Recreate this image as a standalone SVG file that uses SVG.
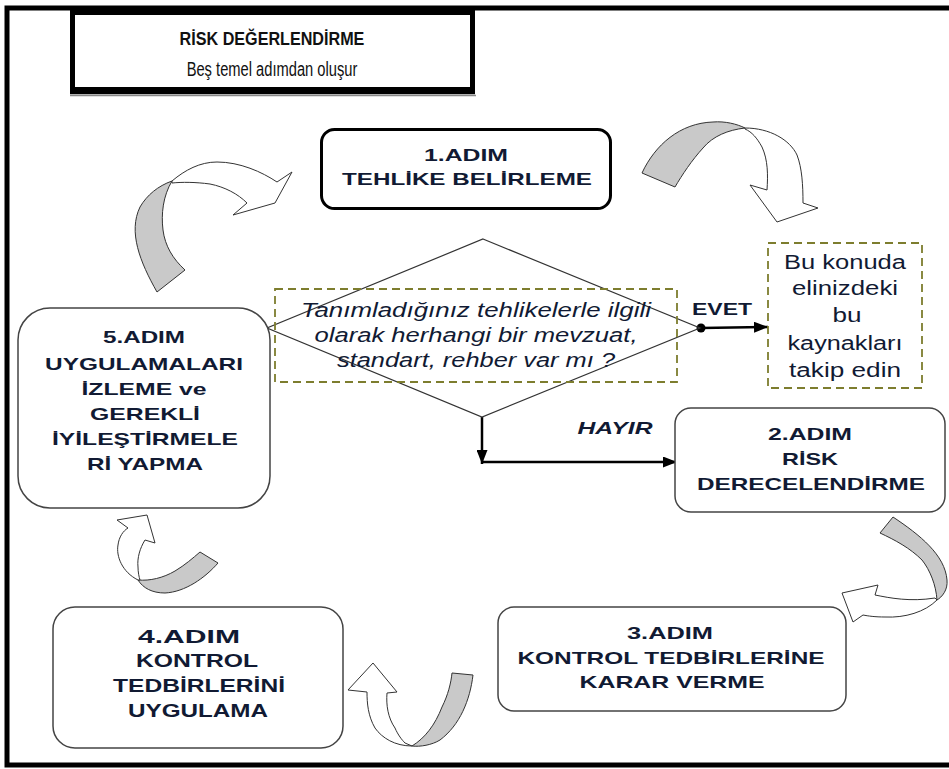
<svg xmlns="http://www.w3.org/2000/svg" width="949" height="769" viewBox="0 0 949 769">
<style>
.bt{font-family:"Liberation Sans",Arial,sans-serif;font-weight:bold;font-size:17px;fill:#111a33;text-anchor:middle}
.b4{font-size:18px}
.it{font-family:"Liberation Sans",Arial,sans-serif;font-style:italic;font-size:20px;fill:#111a33;text-anchor:middle}
.rt{font-family:"Liberation Sans",Arial,sans-serif;font-size:20px;fill:#111a33;text-anchor:middle}
.t1{font-family:"Liberation Sans",Arial,sans-serif;font-weight:bold;font-size:19px;fill:#111;text-anchor:middle}
.t2{font-family:"Liberation Sans",Arial,sans-serif;font-size:20px;fill:#111;text-anchor:middle}
.box{fill:#fff;stroke:#444;stroke-width:1.5}
.dash{fill:none;stroke:#7d7d2e;stroke-width:1.8;stroke-dasharray:8 5}
.g{fill:#c9c9c9;stroke:#333;stroke-width:1}
.w{fill:#fff;stroke:#333;stroke-width:1}
.ln{fill:none;stroke:#000;stroke-width:2.5}
</style>
<defs>
<marker id="ah" markerUnits="userSpaceOnUse" markerWidth="14" markerHeight="11" refX="14" refY="5.5" orient="auto">
<path d="M0,0 L14,5.5 L0,11 Z" fill="#000"/>
</marker>
</defs>
<rect width="949" height="769" fill="#fff"/>
<rect x="7" y="8" width="960" height="757" fill="none" stroke="#000" stroke-width="5"/>

<g id="title">
<rect x="72.5" y="12.5" width="400" height="77" fill="#fff" stroke="#000" stroke-width="5"/>
<line x1="70" y1="93" x2="475" y2="93" stroke="#000" stroke-width="2.5"/>
<line x1="70" y1="95.5" x2="476" y2="95.5" stroke="#888" stroke-width="1.5"/>
<text class="t1" transform="translate(272,45) scale(0.85,1)">RİSK DEĞERLENDİRME</text>
<text class="t2" transform="translate(272,76) scale(0.735,1)">Beş temel adımdan oluşur</text>
</g>

<g id="connectors">
<path class="g" d="M157,292 C140,262 128,232 140,207 C147,195 158,186 172,181 C163,196 161,214 163,230 C165,246 173,259 185,270 Z"/>
<path class="w" d="M172,181 C185,170 200,162 217,162 C240,162 262,172 277,182 L292,172 L275,203 L233,215 L247,203 C238,194 225,187 210,184 C195,182 182,182 172,183 Z"/>
<path class="g" d="M642,173 C655,145 680,123 713,122 C725,121 737,124 745,128 C728,130 713,136 703,148 C692,160 682,175 675,187 Z"/>
<path class="w" d="M745,128 C770,128 790,140 797,155 C802,168 803,185 803,203 L818,208 L777,222 L750,185 L767,190 C768,175 768,160 762,147 C757,138 752,132 745,129 Z"/>
<path class="g" d="M893,517 C920,535 945,555 947,580 C948,590 942,597 937,600 C936,585 930,570 922,560 C910,548 895,540 880,533 Z"/>
<path class="w" d="M937,600 C925,612 905,618 885,617 C875,617 868,616 863,615 L853,622 L842,593 L878,585 L875,595 C890,598 910,602 935,598 Z"/>
<path class="g" d="M473,675 C470,700 460,725 440,740 C432,745 420,747 412,746 C425,738 435,725 442,707 C448,695 451,683 452,673 Z"/>
<path class="w" d="M412,746 C395,746 382,738 375,728 C368,716 367,703 367,692 L348,690 L373,663 L397,692 L387,693 C386,705 388,718 395,728 C398,735 402,740 405,743 Z"/>
<path class="g" d="M218,563 C205,578 185,592 165,593 C152,593 143,588 138,580 C150,581 163,578 175,571 C185,565 193,558 200,552 Z"/>
<path class="w" d="M138,580 C122,572 116,556 118,545 C119,537 123,531 128,528 L117,520 L147,515 L155,543 L145,540 C140,548 137,558 138,567 C138,572 139,577 140,580 Z"/>
<line class="ln" x1="701" y1="328" x2="768" y2="327" marker-end="url(#ah)"/>
<circle cx="701" cy="328" r="4.5" fill="#000"/>
<path class="ln" d="M482,417 V464" marker-end="url(#ah)"/>
<path class="ln" d="M482,462 H677" marker-end="url(#ah)"/>
<text class="bt" x="722" y="315" textLength="60" lengthAdjust="spacingAndGlyphs">EVET</text>
<text class="bt" x="615" y="434" style="font-style:italic" textLength="75" lengthAdjust="spacingAndGlyphs">HAYIR</text>
</g>

<g id="decision">
<polygon points="483,239 700,328 482,417 267,328" fill="none" stroke="#333" stroke-width="1.2"/>
<rect class="dash" x="275" y="289" width="402" height="93"/>
<text class="it" x="476" y="317" textLength="350" lengthAdjust="spacingAndGlyphs">Tanımladığınız tehlikelerle ilgili</text>
<text class="it" x="476" y="342" textLength="323" lengthAdjust="spacingAndGlyphs">olarak herhangi bir mevzuat,</text>
<text class="it" x="476" y="367" textLength="278" lengthAdjust="spacingAndGlyphs">standart, rehber var mı ?</text>
</g>

<g id="kaynak">
<rect class="dash" x="768" y="243" width="154" height="145"/>
<text class="rt" x="845" y="269" textLength="122" lengthAdjust="spacingAndGlyphs">Bu konuda</text>
<text class="rt" x="845" y="295" textLength="106" lengthAdjust="spacingAndGlyphs">elinizdeki</text>
<text class="rt" x="847" y="322" textLength="29" lengthAdjust="spacingAndGlyphs">bu</text>
<text class="rt" x="845" y="350" textLength="115" lengthAdjust="spacingAndGlyphs">kaynakları</text>
<text class="rt" x="845" y="377" textLength="112" lengthAdjust="spacingAndGlyphs">takip edin</text>
</g>

<g id="step1">
<rect x="321.5" y="129.5" width="289" height="79" rx="13" fill="#fff" stroke="#000" stroke-width="3"/>
<text class="bt" x="466" y="161" textLength="84" lengthAdjust="spacingAndGlyphs">1.ADIM</text>
<text class="bt" x="467" y="185" textLength="250" lengthAdjust="spacingAndGlyphs">TEHLİKE BELİRLEME</text>
</g>

<g id="step2">
<rect class="box" x="675" y="408" width="270" height="104" rx="16"/>
<text class="bt" x="810" y="440" textLength="84" lengthAdjust="spacingAndGlyphs">2.ADIM</text>
<text class="bt" x="810" y="465" textLength="56" lengthAdjust="spacingAndGlyphs">RİSK</text>
<text class="bt" x="811" y="490" textLength="228" lengthAdjust="spacingAndGlyphs">DERECELENDİRME</text>
</g>

<g id="step3">
<rect class="box" x="498" y="607" width="348" height="104" rx="16"/>
<text class="bt" x="670" y="639" textLength="86" lengthAdjust="spacingAndGlyphs">3.ADIM</text>
<text class="bt" x="671" y="664" textLength="307" lengthAdjust="spacingAndGlyphs">KONTROL TEDBİRLERİNE</text>
<text class="bt" x="672" y="688" textLength="185" lengthAdjust="spacingAndGlyphs">KARAR VERME</text>
</g>

<g id="step4">
<rect class="box" x="53" y="607" width="290" height="141" rx="22"/>
<text class="bt b4" x="189" y="643" textLength="102" lengthAdjust="spacingAndGlyphs">4.ADIM</text>
<text class="bt b4" x="197" y="667" textLength="122" lengthAdjust="spacingAndGlyphs">KONTROL</text>
<text class="bt b4" x="199" y="692" textLength="172" lengthAdjust="spacingAndGlyphs">TEDBİRLERİNİ</text>
<text class="bt b4" x="198" y="717" textLength="140" lengthAdjust="spacingAndGlyphs">UYGULAMA</text>
</g>

<g id="step5">
<rect class="box" x="18" y="308" width="252" height="200" rx="32"/>
<text class="bt" x="144" y="343" textLength="82" lengthAdjust="spacingAndGlyphs">5.ADIM</text>
<text class="bt" x="144" y="370" textLength="198" lengthAdjust="spacingAndGlyphs">UYGULAMALARI</text>
<text class="bt" x="144" y="395" textLength="125" lengthAdjust="spacingAndGlyphs">İZLEME ve</text>
<text class="bt" x="145" y="420" textLength="110" lengthAdjust="spacingAndGlyphs">GEREKLİ</text>
<text class="bt" x="145" y="445" textLength="186" lengthAdjust="spacingAndGlyphs">İYİLEŞTİRMELE</text>
<text class="bt" x="145" y="470" textLength="116" lengthAdjust="spacingAndGlyphs">Rİ YAPMA</text>
</g>
</svg>
